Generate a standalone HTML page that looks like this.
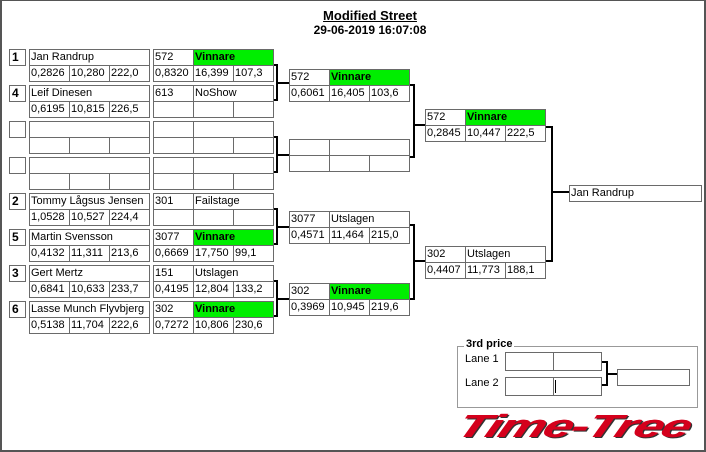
<!DOCTYPE html>
<html><head><meta charset="utf-8"><style>
*{box-sizing:border-box;margin:0;padding:0}
body{width:706px;height:452px;background:#fff;position:relative;overflow:hidden;font-family:"Liberation Sans",sans-serif;font-size:11px;color:#000}
.frame{position:absolute;left:0;top:0;width:706px;height:452px;border:1px solid #555;border-left:2px solid #555;border-bottom:2px solid #555;border-right:2px solid #555}
.c{position:absolute;border:1px solid #6a6a6a;background:#fff;height:17px;line-height:14px;padding-left:1px;white-space:nowrap;overflow:hidden}
.g{background:#00ee00;font-weight:bold}
.s{position:absolute;left:9px;width:17px;height:17px;border:1px solid #6a6a6a;font-weight:bold;font-size:12px;line-height:15px;padding-left:2px}
.b{position:absolute;background:#000}
</style></head><body>
<div class="frame"></div>
<div style="position:absolute;left:270px;width:200px;top:9px;text-align:center;font-weight:bold;font-size:13px;line-height:14px"><span style="text-decoration:underline">Modified Street</span><br><span style="font-size:12px">29-06-2019 16:07:08</span></div>

<div class="s" style="top:49px">1</div>
<div class="c" style="left:29px;top:49px;width:121px">Jan Randrup</div>
<div class="c" style="left:29px;top:65px;width:41px">0,2826</div><div class="c" style="left:69px;top:65px;width:41px">10,280</div><div class="c" style="left:109px;top:65px;width:41px">222,0</div>
<div class="c" style="left:153px;top:49px;width:41px">572</div><div class="c g" style="left:193px;top:49px;width:81px">Vinnare</div>
<div class="c" style="left:153px;top:65px;width:41px">0,8320</div><div class="c" style="left:193px;top:65px;width:41px">16,399</div><div class="c" style="left:233px;top:65px;width:41px">107,3</div>

<div class="s" style="top:85px">4</div>
<div class="c" style="left:29px;top:85px;width:121px">Leif Dinesen</div>
<div class="c" style="left:29px;top:101px;width:41px">0,6195</div><div class="c" style="left:69px;top:101px;width:41px">10,815</div><div class="c" style="left:109px;top:101px;width:41px">226,5</div>
<div class="c" style="left:153px;top:85px;width:41px">613</div><div class="c" style="left:193px;top:85px;width:81px">NoShow</div>
<div class="c" style="left:153px;top:101px;width:41px"></div><div class="c" style="left:193px;top:101px;width:41px"></div><div class="c" style="left:233px;top:101px;width:41px"></div>

<div class="s" style="top:121px"></div>
<div class="c" style="left:29px;top:121px;width:121px"></div>
<div class="c" style="left:29px;top:137px;width:41px"></div><div class="c" style="left:69px;top:137px;width:41px"></div><div class="c" style="left:109px;top:137px;width:41px"></div>
<div class="c" style="left:153px;top:121px;width:41px"></div><div class="c" style="left:193px;top:121px;width:81px"></div>
<div class="c" style="left:153px;top:137px;width:41px"></div><div class="c" style="left:193px;top:137px;width:41px"></div><div class="c" style="left:233px;top:137px;width:41px"></div>

<div class="s" style="top:157px"></div>
<div class="c" style="left:29px;top:157px;width:121px"></div>
<div class="c" style="left:29px;top:173px;width:41px"></div><div class="c" style="left:69px;top:173px;width:41px"></div><div class="c" style="left:109px;top:173px;width:41px"></div>
<div class="c" style="left:153px;top:157px;width:41px"></div><div class="c" style="left:193px;top:157px;width:81px"></div>
<div class="c" style="left:153px;top:173px;width:41px"></div><div class="c" style="left:193px;top:173px;width:41px"></div><div class="c" style="left:233px;top:173px;width:41px"></div>

<div class="s" style="top:193px">2</div>
<div class="c" style="left:29px;top:193px;width:121px">Tommy Lågsus Jensen</div>
<div class="c" style="left:29px;top:209px;width:41px">1,0528</div><div class="c" style="left:69px;top:209px;width:41px">10,527</div><div class="c" style="left:109px;top:209px;width:41px">224,4</div>
<div class="c" style="left:153px;top:193px;width:41px">301</div><div class="c" style="left:193px;top:193px;width:81px">Failstage</div>
<div class="c" style="left:153px;top:209px;width:41px"></div><div class="c" style="left:193px;top:209px;width:41px"></div><div class="c" style="left:233px;top:209px;width:41px"></div>

<div class="s" style="top:229px">5</div>
<div class="c" style="left:29px;top:229px;width:121px">Martin Svensson</div>
<div class="c" style="left:29px;top:245px;width:41px">0,4132</div><div class="c" style="left:69px;top:245px;width:41px">11,311</div><div class="c" style="left:109px;top:245px;width:41px">213,6</div>
<div class="c" style="left:153px;top:229px;width:41px">3077</div><div class="c g" style="left:193px;top:229px;width:81px">Vinnare</div>
<div class="c" style="left:153px;top:245px;width:41px">0,6669</div><div class="c" style="left:193px;top:245px;width:41px">17,750</div><div class="c" style="left:233px;top:245px;width:41px">99,1</div>

<div class="s" style="top:265px">3</div>
<div class="c" style="left:29px;top:265px;width:121px">Gert Mertz</div>
<div class="c" style="left:29px;top:281px;width:41px">0,6841</div><div class="c" style="left:69px;top:281px;width:41px">10,633</div><div class="c" style="left:109px;top:281px;width:41px">233,7</div>
<div class="c" style="left:153px;top:265px;width:41px">151</div><div class="c" style="left:193px;top:265px;width:81px">Utslagen</div>
<div class="c" style="left:153px;top:281px;width:41px">0,4195</div><div class="c" style="left:193px;top:281px;width:41px">12,804</div><div class="c" style="left:233px;top:281px;width:41px">133,2</div>

<div class="s" style="top:301px">6</div>
<div class="c" style="left:29px;top:301px;width:121px">Lasse Munch Flyvbjerg</div>
<div class="c" style="left:29px;top:317px;width:41px">0,5138</div><div class="c" style="left:69px;top:317px;width:41px">11,704</div><div class="c" style="left:109px;top:317px;width:41px">222,6</div>
<div class="c" style="left:153px;top:301px;width:41px">302</div><div class="c g" style="left:193px;top:301px;width:81px">Vinnare</div>
<div class="c" style="left:153px;top:317px;width:41px">0,7272</div><div class="c" style="left:193px;top:317px;width:41px">10,806</div><div class="c" style="left:233px;top:317px;width:41px">230,6</div>

<div class="b" style="left:274px;top:64px;width:4px;height:2px"></div><div class="b" style="left:276px;top:64px;width:2px;height:37px"></div><div class="b" style="left:274px;top:99px;width:4px;height:2px"></div><div class="b" style="left:276px;top:82px;width:13px;height:2px"></div>
<div class="b" style="left:274px;top:136px;width:4px;height:2px"></div><div class="b" style="left:276px;top:136px;width:2px;height:37px"></div><div class="b" style="left:274px;top:171px;width:4px;height:2px"></div><div class="b" style="left:276px;top:154px;width:13px;height:2px"></div>
<div class="b" style="left:274px;top:208px;width:4px;height:2px"></div><div class="b" style="left:276px;top:208px;width:2px;height:37px"></div><div class="b" style="left:274px;top:243px;width:4px;height:2px"></div><div class="b" style="left:276px;top:226px;width:13px;height:2px"></div>
<div class="b" style="left:274px;top:280px;width:4px;height:2px"></div><div class="b" style="left:276px;top:280px;width:2px;height:37px"></div><div class="b" style="left:274px;top:315px;width:4px;height:2px"></div><div class="b" style="left:276px;top:298px;width:13px;height:2px"></div>

<div class="c" style="left:289px;top:69px;width:41px">572</div><div class="c g" style="left:329px;top:69px;width:81px">Vinnare</div>
<div class="c" style="left:289px;top:85px;width:41px">0,6061</div><div class="c" style="left:329px;top:85px;width:41px">16,405</div><div class="c" style="left:369px;top:85px;width:41px">103,6</div>
<div class="c" style="left:289px;top:139px;width:41px"></div><div class="c" style="left:329px;top:139px;width:81px"></div>
<div class="c" style="left:289px;top:155px;width:41px"></div><div class="c" style="left:329px;top:155px;width:41px"></div><div class="c" style="left:369px;top:155px;width:41px"></div>
<div class="c" style="left:289px;top:211px;width:41px">3077</div><div class="c" style="left:329px;top:211px;width:81px">Utslagen</div>
<div class="c" style="left:289px;top:227px;width:41px">0,4571</div><div class="c" style="left:329px;top:227px;width:41px">11,464</div><div class="c" style="left:369px;top:227px;width:41px">215,0</div>
<div class="c" style="left:289px;top:283px;width:41px">302</div><div class="c g" style="left:329px;top:283px;width:81px">Vinnare</div>
<div class="c" style="left:289px;top:299px;width:41px">0,3969</div><div class="c" style="left:329px;top:299px;width:41px">10,945</div><div class="c" style="left:369px;top:299px;width:41px">219,6</div>

<div class="b" style="left:410px;top:84px;width:5px;height:2px"></div><div class="b" style="left:413px;top:84px;width:2px;height:74px"></div><div class="b" style="left:410px;top:156px;width:5px;height:2px"></div><div class="b" style="left:413px;top:124px;width:13px;height:2px"></div>
<div class="b" style="left:410px;top:224px;width:5px;height:2px"></div><div class="b" style="left:413px;top:224px;width:2px;height:76px"></div><div class="b" style="left:410px;top:298px;width:5px;height:2px"></div><div class="b" style="left:413px;top:260px;width:13px;height:2px"></div>

<div class="c" style="left:425px;top:109px;width:41px">572</div><div class="c g" style="left:465px;top:109px;width:81px">Vinnare</div>
<div class="c" style="left:425px;top:125px;width:41px">0,2845</div><div class="c" style="left:465px;top:125px;width:41px">10,447</div><div class="c" style="left:505px;top:125px;width:41px">222,5</div>
<div class="c" style="left:425px;top:246px;width:41px">302</div><div class="c" style="left:465px;top:246px;width:81px">Utslagen</div>
<div class="c" style="left:425px;top:262px;width:41px">0,4407</div><div class="c" style="left:465px;top:262px;width:41px">11,773</div><div class="c" style="left:505px;top:262px;width:41px">188,1</div>

<div class="b" style="left:546px;top:126px;width:7px;height:2px"></div><div class="b" style="left:551px;top:126px;width:2px;height:136px"></div><div class="b" style="left:546px;top:260px;width:7px;height:2px"></div><div class="b" style="left:551px;top:191px;width:18px;height:2px"></div>
<div class="c" style="left:569px;top:185px;width:133px">Jan Randrup</div>

<div style="position:absolute;left:457px;top:346px;width:241px;height:62px;border:1px solid #999"></div>
<div style="position:absolute;left:464px;top:338px;background:#fff;padding:0 2px;font-weight:bold;font-size:11px">3rd price</div>
<div style="position:absolute;left:465px;top:353px">Lane 1</div>
<div style="position:absolute;left:465px;top:377px">Lane 2</div>
<div class="c" style="left:505px;top:352px;width:49px;height:19px"></div><div class="c" style="left:553px;top:352px;width:49px;height:19px"></div>
<div class="c" style="left:505px;top:377px;width:49px;height:19px"></div><div class="c" style="left:553px;top:377px;width:49px;height:19px"></div>
<div class="b" style="left:555px;top:380px;width:1px;height:13px"></div>
<div class="b" style="left:602px;top:361px;width:6px;height:2px"></div><div class="b" style="left:606px;top:361px;width:2px;height:25px"></div><div class="b" style="left:602px;top:384px;width:6px;height:2px"></div><div class="b" style="left:606px;top:373px;width:11px;height:2px"></div>
<div class="c" style="left:617px;top:369px;width:73px;height:17px"></div>

<div style="position:absolute;left:466px;top:409px;font-weight:900;font-style:italic;font-size:32px;line-height:34px;color:#d4001c;transform-origin:0 0;transform:skewX(-22deg) scaleX(1.62);letter-spacing:-1px;text-shadow:1px 1px 0 #333,-0.5px 0 0 #d4001c">Time-Tree</div>
</body></html>
